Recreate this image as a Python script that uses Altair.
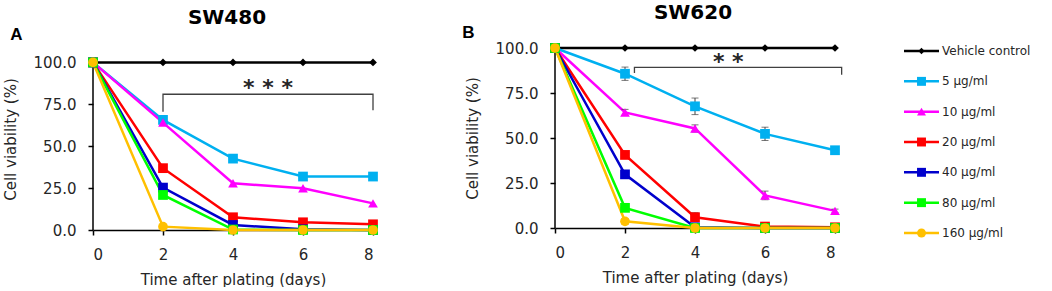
import altair as alt
import pandas as pd

days = [0, 2, 4, 6, 8]
series_names = ["Vehicle control", "5 µg/ml", "10 µg/ml", "20 µg/ml", "40 µg/ml", "80 µg/ml", "160 µg/ml"]
series_colors = ["#000000", "#00B0F0", "#FF00FF", "#FF0000", "#0000CC", "#00FF00", "#FFC000"]
series_shapes = ["diamond", "square", "triangle-up", "square", "square", "square", "circle"]

# SW480 (panel A)
a_vehicle = [100, 100, 100, 100, 100]
a_5 = [100, 65.7, 42.6, 31.9, 31.9]
a_10 = [100, 64.1, 27.9, 24.9, 15.9]
a_20 = [100, 36.9, 7.6, 4.6, 3.4]
a_40 = [100, 25.3, 3.0, 0.4, 0.0]
a_80 = [100, 20.9, 0.3, 0.0, 0.0]
a_160 = [100, 2.0, 0.0, 0.0, 0.0]

# SW620 (panel B)
b_vehicle = [100, 100, 100, 100, 100]
b_5 = [100, 85.7, 67.6, 52.3, 43.2]
b_10 = [100, 64.2, 55.3, 18.1, 9.5]
b_20 = [100, 40.6, 6.0, 0.8, 0.4]
b_40 = [100, 29.8, 0.4, 0.0, 0.0]
b_80 = [100, 11.2, 0.0, 0.0, 0.0]
b_160 = [100, 3.7, 0.0, 0.0, 0.0]

# SW620 error (SD)
be_vehicle = [0, 0, 0, 0, 0]
be_5 = [0, 3.7, 4.6, 3.7, 1.5]
be_10 = [0, 1.7, 2.0, 2.4, 1.0]
be_20 = [0, 1.5, 2.5, 0.5, 0.3]
be_40 = [0, 1.0, 0.3, 0, 0]
be_80 = [0, 1.5, 0, 0, 0]
be_160 = [0, 1.5, 0, 0, 0]

# significance brackets
a_bracket_x = [2, 2, 8, 8]
a_bracket_y = [70.5, 81.0, 81.0, 71.4]
a_stars = "* * *"
a_stars_at = [5.0, 84.5]
b_bracket_x = [2.27, 2.27, 8.19, 8.19]
b_bracket_y = [86.1, 89.2, 89.2, 85.1]
b_stars = "* *"
b_stars_at = [4.95, 92.5]

FONT = "DejaVu Sans"
TXT = "#262626"


def long_df(values, errors):
    rows = []
    for i, name in enumerate(series_names):
        for j, d in enumerate(days):
            rows.append({"series": name, "day": d, "v": values[i][j],
                         "e": errors[i][j], "k": i * 10 + j})
    return pd.DataFrame(rows)


def panel(df, ymax, height, title, tx, ty, letter, lx, ly, bx, by, stars, stars_at, with_err):
    xax = alt.Axis(values=days, title="Time after plating (days)", grid=False,
                   labelFont=FONT, labelFontSize=15, labelColor=TXT, labelPadding=12,
                   titleFont=FONT, titleFontSize=15, titleFontWeight="normal", titleColor=TXT,
                   titlePadding=10, domainColor="#000000", domainWidth=1.5,
                   tickColor="#000000", tickWidth=1.5, tickSize=5)
    yax = alt.Axis(values=[0, 25, 50, 75, 100], format=".1f", title="Cell viability (%)",
                   grid=False, domain=False,
                   labelFont=FONT, labelFontSize=15, labelColor=TXT, labelPadding=12,
                   titleFont=FONT, titleFontSize=15, titleFontWeight="normal", titleColor=TXT,
                   titlePadding=15, tickColor="#000000", tickWidth=1.5, tickSize=5)
    xs = alt.Scale(domain=[0, 8], nice=False, zero=False)
    ys = alt.Scale(domain=[0, ymax], nice=False)
    color = alt.Color("series:N", scale=alt.Scale(domain=series_names, range=series_colors), legend=None)

    def X(field):
        return alt.X(field, type="quantitative", scale=xs, axis=xax)

    def Y(field):
        return alt.Y(field, type="quantitative", scale=ys, axis=yax)

    base = alt.Chart(df)
    yline = alt.Chart(pd.DataFrame({"a": [0]})).mark_rule(color="#000000", strokeWidth=1.5).encode(
        x=alt.X(datum=0, type="quantitative", scale=xs, axis=xax),
        y=alt.Y(datum=0, type="quantitative", scale=ys, axis=yax),
        y2=alt.Y2(datum=100),
    )
    lines = base.mark_line(strokeWidth=2.5).encode(x=X("day"), y=Y("v"), color=color,
                                                   order=alt.Order("day:Q"))
    layers = [yline, lines]
    if with_err:
        eb = base.transform_filter("datum.e > 0").transform_calculate(
            lo="datum.v - datum.e", hi="datum.v + datum.e")
        layers.append(eb.mark_rule(color="#404040", strokeWidth=1).encode(
            x=X("day"), y=Y("lo"), y2="hi:Q"))
        layers.append(eb.mark_tick(orient="horizontal", color="#404040", thickness=1, size=7).encode(
            x=X("day"), y=Y("lo")))
        layers.append(eb.mark_tick(orient="horizontal", color="#404040", thickness=1, size=7).encode(
            x=X("day"), y=Y("hi")))
    pts = base.mark_point(filled=True, opacity=1).encode(
        x=X("day"), y=Y("v"), color=color,
        shape=alt.Shape("series:N", scale=alt.Scale(domain=series_names, range=series_shapes), legend=None),
        size=alt.condition(alt.datum.series == "Vehicle control", alt.value(60), alt.value(95)),
        order=alt.Order("k:Q"),
    )
    layers.append(pts)
    bdf = pd.DataFrame({"bx": bx, "by": by, "i": list(range(len(bx)))})
    layers.append(alt.Chart(bdf).mark_line(color="#404040", strokeWidth=1.3).encode(
        x=X("bx"), y=Y("by"), order="i:Q"))
    layers.append(alt.Chart(pd.DataFrame({"t": [stars]})).mark_text(
        font=FONT, fontSize=22, fontWeight="bold", color="#262626", baseline="middle").encode(
        x=alt.X(datum=stars_at[0], type="quantitative", scale=xs, axis=xax),
        y=alt.Y(datum=stars_at[1], type="quantitative", scale=ys, axis=yax),
        text="t:N"))
    layers.append(alt.Chart(pd.DataFrame({"t": [letter]})).mark_text(
        font="Liberation Sans", fontSize=17, fontWeight="bold", color="#000000",
        baseline="alphabetic", align="center").encode(
        x=alt.value(lx), y=alt.value(ly), text="t:N"))
    layers.append(alt.Chart(pd.DataFrame({"t": [title]})).mark_text(
        font=FONT, fontSize=20, fontWeight="bold", color="#000000",
        baseline="alphabetic", align="center").encode(
        x=alt.value(tx), y=alt.value(ty), text="t:N"))
    return alt.layer(*layers).properties(width=280, height=height)


df_a = long_df([a_vehicle, a_5, a_10, a_20, a_40, a_80, a_160], [[0] * 5] * 7)
df_b = long_df([b_vehicle, b_5, b_10, b_20, b_40, b_80, b_160],
               [be_vehicle, be_5, be_10, be_20, be_40, be_80, be_160])

chart_a = panel(df_a, 108.6, 182, "SW480", 134, -24, "A", -76.5, -8,
                a_bracket_x, a_bracket_y, a_stars, a_stars_at, False)
chart_b = panel(df_b, 100, 180, "SW620", 138, -29, "B", -86.5, -10,
                b_bracket_x, b_bracket_y, b_stars, b_stars_at, True)

# legend panel
legend_df = pd.DataFrame({"series": series_names})
lyenc = alt.Y("series:N", scale=alt.Scale(domain=series_names, type="point", padding=0.1), axis=None)
lcol = alt.Color("series:N", scale=alt.Scale(domain=series_names, range=series_colors), legend=None)
leg_line = alt.Chart(legend_df).mark_rule(strokeWidth=2.5).encode(
    x=alt.value(0), x2=alt.value(35), y=lyenc, color=lcol)
leg_pt = alt.Chart(legend_df).mark_point(filled=True, opacity=1).encode(
    x=alt.value(17.5), y=lyenc, color=lcol,
    shape=alt.Shape("series:N", scale=alt.Scale(domain=series_names, range=series_shapes), legend=None),
    size=alt.condition(alt.datum.series == "Vehicle control", alt.value(40), alt.value(80)))
leg_txt = alt.Chart(legend_df).mark_text(align="left", baseline="middle", font=FONT,
                                         fontSize=12, color="#262626").encode(
    x=alt.value(38), y=lyenc, text="series:N")
legend = alt.layer(leg_line, leg_pt, leg_txt).properties(width=140, height=188)

chart = alt.hconcat(alt.hconcat(chart_a, chart_b, spacing=84), legend, spacing=57).properties(
    padding={"left": 3, "top": 3, "right": 0, "bottom": 0}
).configure_view(stroke=None)

chart.save("out.html", embed_options={"renderer": "svg", "actions": False})
